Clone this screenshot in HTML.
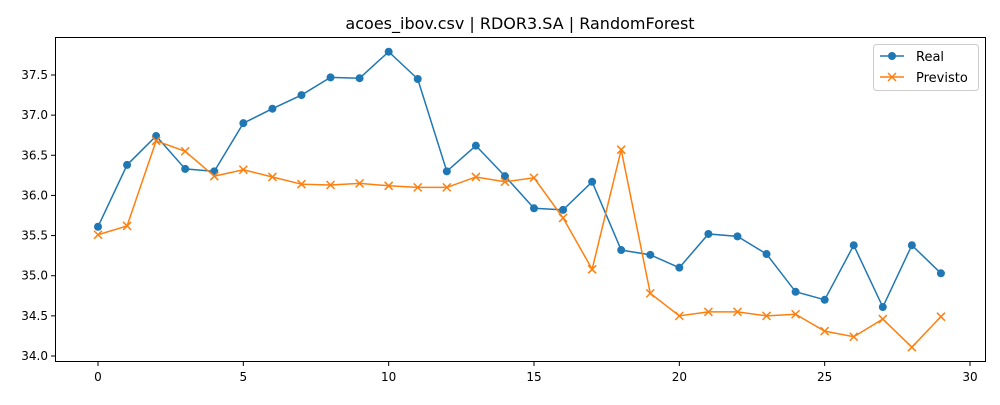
<!DOCTYPE html>
<html><head><meta charset="utf-8"><style>
body{margin:0;background:#fff;font-family:"Liberation Sans","DejaVu Sans",sans-serif}
svg text{font-family:"DejaVu Sans","Liberation Sans",sans-serif}
</style></head><body>
<svg id="chart" width="1000" height="400" xmlns="http://www.w3.org/2000/svg">
<rect width="1000" height="400" fill="#fff"/>
<text x="520" y="29" text-anchor="middle" font-size="16" fill="#000">acoes_ibov.csv | RDOR3.SA | RandomForest</text>
<g id="axes"></g>
<g id="series"></g>
<rect x="55.5" y="37.5" width="930" height="324" fill="none" stroke="#000" stroke-width="1"/>
<g>
<rect x="873.5" y="44.5" width="105" height="46" rx="3" fill="#fff" stroke="#ccc"/>
<g>
<line x1="880" y1="56" x2="904" y2="56" stroke="#1f77b4" stroke-width="1.5"/>
<circle cx="892" cy="56" r="4" fill="#1f77b4"/>
<text x="916" y="61" font-size="13">Real</text></g>
<g>
<line x1="880" y1="77" x2="904" y2="77" stroke="#ff7f0e" stroke-width="1.5"/>
<path d="M888,73 L896,81 M896,73 L888,81" stroke="#ff7f0e" stroke-width="1.5"/>
<text x="916" y="82" font-size="13">Previsto</text></g>
</g>
</svg>
<script>
const realValues=[35.61,36.38,36.74,36.33,36.30,36.90,37.08,37.25,37.47,37.46,37.79,37.45,36.30,36.62,36.24,35.84,35.82,36.17,35.32,35.26,35.10,35.52,35.49,35.27,34.80,34.70,35.38,34.61,35.38,35.03];
const previstoValues=[35.51,35.62,36.68,36.55,36.24,36.32,36.23,36.14,36.13,36.15,36.12,36.10,36.10,36.23,36.17,36.22,35.72,35.08,36.57,34.78,34.50,34.55,34.55,34.50,34.52,34.31,34.24,34.46,34.11,34.49];
const xTicks=[0,5,10,15,20,25,30];
const yTicks=[34.0,34.5,35.0,35.5,36.0,36.5,37.0,37.5];
const NS="http://www.w3.org/2000/svg";
function xs(v){return 98+v*(970-98)/30;}
function ys(v){return 356-(v-34)*(356-75)/3.5;}
const axes=document.getElementById('axes'),ser=document.getElementById('series');
function mk(tag,attrs,parent){const e=document.createElementNS(NS,tag);for(const k in attrs)e.setAttribute(k,attrs[k]);parent.appendChild(e);return e;}
xTicks.forEach(t=>{const x=xs(t);
mk('line',{x1:x,y1:361.5,x2:x,y2:366,stroke:'#000'},axes);
const tx=mk('text',{x:x,y:381,'text-anchor':'middle','font-size':12},axes);tx.textContent=t;

});
yTicks.forEach(t=>{const y=ys(t);
mk('line',{x1:51,y1:y,x2:55.5,y2:y,stroke:'#000'},axes);
const tx=mk('text',{x:48,y:y+4,'text-anchor':'end','font-size':12},axes);tx.textContent=t.toFixed(1);

});
function line(vals,color,name){
const p=mk('polyline',{points:vals.map((v,i)=>xs(i)+','+ys(v)).join(' '),fill:'none',stroke:color,'stroke-width':1.5},ser);


vals.forEach((v,i)=>{let m;
if(name==='real'){m=mk('circle',{cx:xs(i),cy:ys(v),r:4,fill:color},ser);}
else{const x=xs(i),y=ys(v);m=mk('path',{d:`M${x-4},${y-4}L${x+4},${y+4}M${x+4},${y-4}L${x-4},${y+4}`,stroke:color,'stroke-width':1.5},ser);}

});}
line(realValues,'#1f77b4','real');
line(previstoValues,'#ff7f0e','previsto');
</script>
</body></html>
